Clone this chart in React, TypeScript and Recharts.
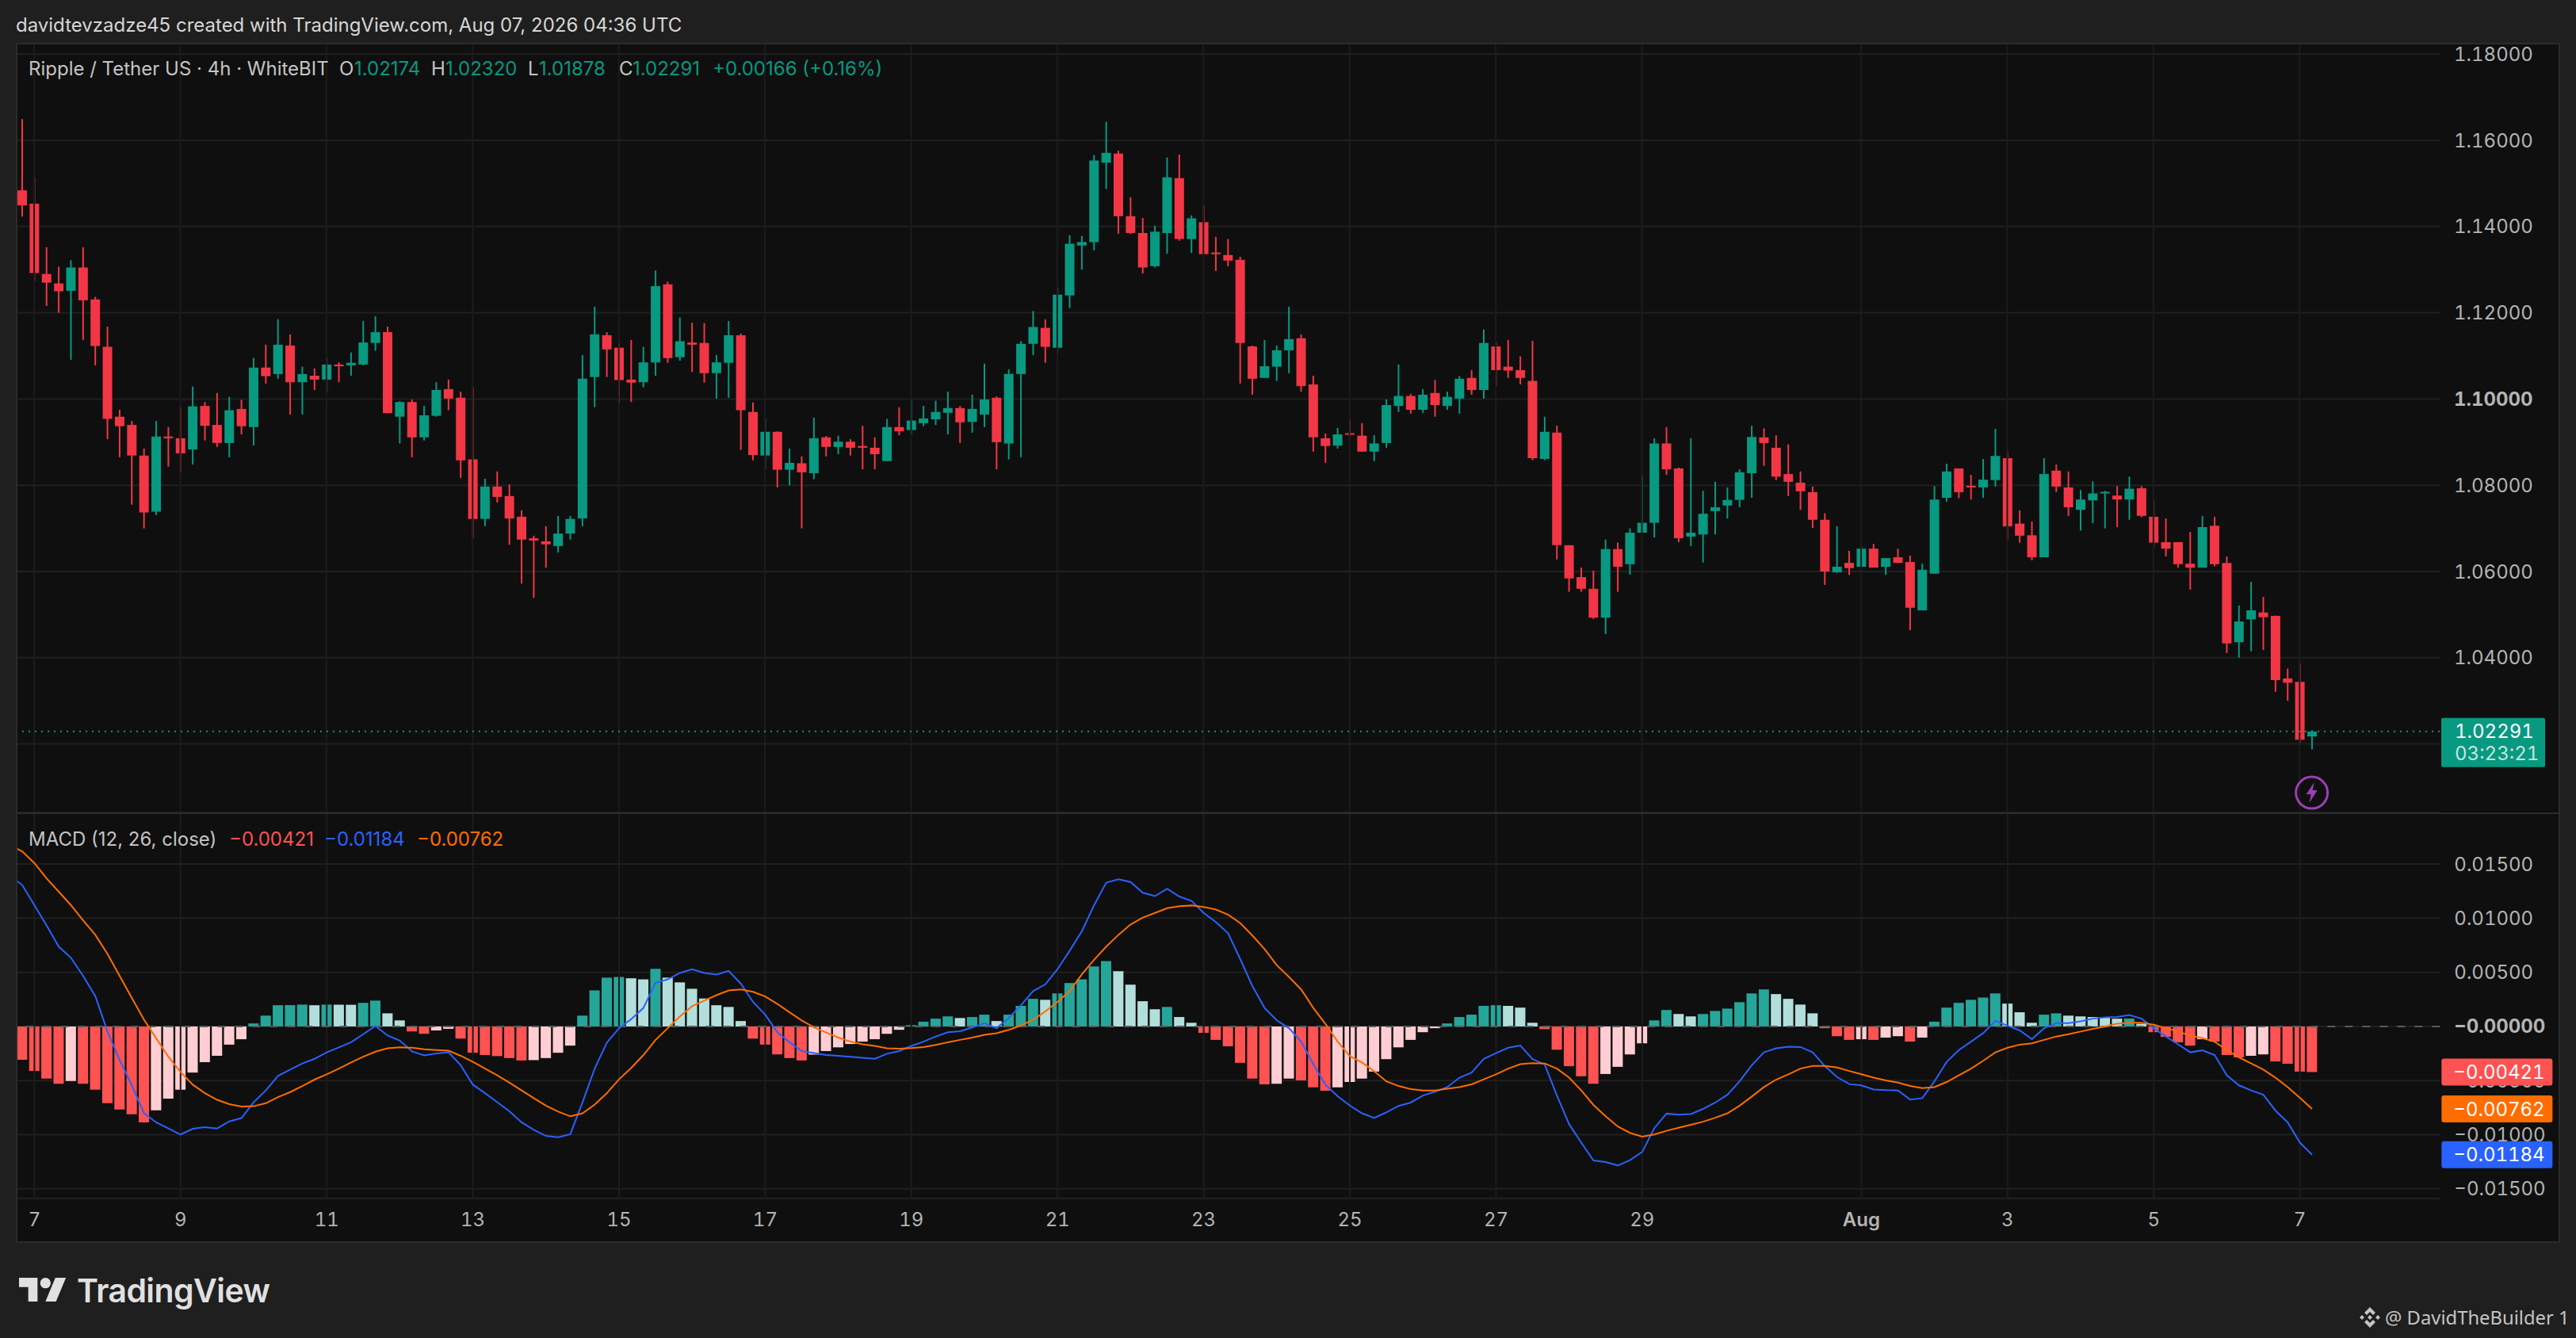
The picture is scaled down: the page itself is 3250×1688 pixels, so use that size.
import { BarChart, Bar, Cell, ComposedChart, Line, XAxis, YAxis, CartesianGrid, ReferenceLine, ReferenceDot } from "recharts";

// 4h candles, first bar is Jul 6 20:00
const opens = [
  1.1484,1.1453,1.1290,1.1268,1.1251,1.1305,1.1231,1.1121,1.0959,1.0940,
  1.0869,1.0739,1.0913,1.0909,1.0883,1.0984,1.0940,1.0898,1.0977,1.0935,
  1.1073,1.1058,1.1124,1.1039,1.1054,1.1045,1.1080,1.1078,1.1080,1.1130,
  1.1155,1.0959,1.0993,1.0911,1.0961,1.1023,1.1003,1.0860,1.0722,1.0797,
  1.0775,1.0727,1.0677,1.0670,1.0659,1.0688,1.0723,1.1051,1.1148,1.1119,
  1.1045,1.1039,1.1085,1.1266,1.1097,1.1131,1.1130,1.1060,1.1084,1.1148,
  1.0970,1.0869,1.0924,1.0836,1.0851,1.0828,1.0911,1.0889,1.0901,1.0891,
  1.0887,1.0856,1.0935,1.0928,1.0944,1.0953,1.0968,1.0979,1.0947,1.0964,
  1.1003,1.0897,1.1058,1.1128,1.1165,1.1119,1.1240,1.1356,1.1364,1.1548,
  1.1569,1.1424,1.1385,1.1308,1.1385,1.1512,1.1371,1.1410,1.1339,1.1334,
  1.1323,1.1122,1.1049,1.1075,1.1113,1.1141,1.1034,1.0909,1.0892,1.0920,
  1.0915,1.0878,1.0898,1.0984,1.1007,1.0975,1.1014,1.0984,1.1001,1.1049,
  1.1021,1.1122,1.1075,1.1067,1.1042,1.0861,1.0922,1.0661,1.0587,1.0560,
  1.0493,1.0652,1.0617,1.0690,1.0713,1.0897,1.0839,1.0681,1.0686,1.0740,
  1.0753,1.0766,1.0828,1.0911,1.0887,1.0826,1.0806,1.0784,1.0720,1.0598,
  1.0620,1.0611,1.0653,1.0611,1.0633,1.0622,1.0510,1.0595,1.0771,1.0839,
  1.0798,1.0795,1.0812,1.0863,1.0711,1.0684,1.0633,1.0834,1.0795,1.0743,
  1.0765,1.0781,1.0776,1.0767,1.0793,1.0727,1.0668,1.0668,1.0618,1.0609,
  1.0706,1.0620,1.0436,1.0489,1.0505,1.0497,1.0352,1.0344,1.02174,
];
const highs = [
  1.1649,1.1514,1.1352,1.1307,1.1322,1.1352,1.1237,1.1168,1.0975,1.0949,
  1.0885,1.0949,1.0935,1.0981,1.1029,1.0993,1.1014,1.1005,1.0998,1.1095,
  1.1126,1.1185,1.1150,1.1075,1.1071,1.1095,1.1085,1.1108,1.1181,1.1192,
  1.1168,1.0995,1.0999,1.0984,1.1039,1.1045,1.1017,1.1027,1.0815,1.0832,
  1.0802,1.0742,1.0683,1.0705,1.0729,1.0729,1.1102,1.1214,1.1155,1.1130,
  1.1137,1.1121,1.1298,1.1272,1.1189,1.1177,1.1176,1.1102,1.1181,1.1152,
  1.0992,1.0955,1.0925,1.0885,1.0867,1.0957,1.0914,1.0915,1.0907,1.0938,
  1.0911,1.0954,1.0981,1.0999,1.0984,1.0996,1.1017,1.0984,1.1010,1.1082,
  1.1006,1.1069,1.1134,1.1204,1.1185,1.1257,1.1380,1.1378,1.1566,1.1643,
  1.1576,1.1468,1.1420,1.1402,1.1560,1.1567,1.1426,1.1448,1.1376,1.1371,
  1.1330,1.1124,1.1137,1.1124,1.1214,1.1150,1.1054,1.0920,1.0933,1.0952,
  1.0944,1.0916,1.0999,1.1080,1.1012,1.1023,1.1044,1.1017,1.1053,1.1067,
  1.1161,1.1131,1.1137,1.1099,1.1135,1.0959,1.0938,1.0661,1.0609,1.0602,
  1.0674,1.0667,1.0700,1.0823,1.0909,1.0935,1.0841,1.0909,1.0787,1.0808,
  1.0795,1.0837,1.0938,1.0932,1.0916,1.0895,1.0832,1.0797,1.0735,1.0705,
  1.0648,1.0659,1.0664,1.0631,1.0653,1.0637,1.0618,1.0798,1.0850,1.0839,
  1.0824,1.0861,1.0931,1.0878,1.0742,1.0716,1.0863,1.0848,1.0832,1.0789,
  1.0809,1.0787,1.0798,1.0820,1.0798,1.0765,1.0723,1.0668,1.0692,1.0729,
  1.0727,1.0635,1.0521,1.0576,1.0541,1.0498,1.0375,1.0387,1.02320,
];
const lows = [
  1.1423,1.1273,1.1216,1.1200,1.1091,1.1137,1.1078,1.0907,1.0865,1.0755,
  1.0700,1.0731,1.0843,1.0830,1.0848,1.0904,1.0889,1.0865,1.0918,1.0892,
  1.1036,1.1047,1.0964,1.0964,1.1021,1.1016,1.1039,1.1054,1.1078,1.1112,
  1.0967,1.0897,1.0865,1.0904,1.0959,1.0974,1.0817,1.0677,1.0705,1.0760,
  1.0662,1.0572,1.0539,1.0609,1.0644,1.0674,1.0705,1.0981,1.1051,1.0990,
  1.0993,1.1027,1.1054,1.1084,1.1089,1.1063,1.1038,1.1001,1.1003,1.0882,
  1.0858,1.0837,1.0795,1.0800,1.0700,1.0814,1.0867,1.0872,1.0869,1.0837,
  1.0837,1.0856,1.0916,1.0918,1.0937,1.0940,1.0918,1.0898,1.0922,1.0935,
  1.0837,1.0860,1.0865,1.1102,1.1084,1.1106,1.1211,1.1300,1.1345,1.1487,
  1.1383,1.1383,1.1291,1.1305,1.1337,1.1367,1.1339,1.1336,1.1297,1.1308,
  1.1036,1.1010,1.1049,1.1042,1.1060,1.1017,1.0878,1.0852,1.0885,1.0913,
  1.0878,1.0856,1.0887,1.0970,1.0966,1.0968,1.0959,1.0975,1.0966,1.1010,
  1.1001,1.1030,1.1049,1.1034,1.0858,1.0858,1.0628,1.0553,1.0553,1.0490,
  1.0455,1.0553,1.0593,1.0690,1.0679,1.0824,1.0668,1.0659,1.0621,1.0686,
  1.0723,1.0749,1.0771,1.0845,1.0812,1.0775,1.0743,1.0701,1.0569,1.0597,
  1.0592,1.0611,1.0609,1.0592,1.0620,1.0464,1.0510,1.0595,1.0762,1.0770,
  1.0767,1.0771,1.0797,1.0675,1.0667,1.0626,1.0633,1.0784,1.0729,1.0695,
  1.0712,1.0700,1.0703,1.0720,1.0726,1.0657,1.0635,1.0609,1.0558,1.0609,
  1.0612,1.0411,1.0400,1.0415,1.0418,1.0321,1.0300,1.0202,1.01878,
];
const closes = [
  1.1449,1.1292,1.1270,1.1250,1.1305,1.1229,1.1123,1.0954,1.0937,1.0869,
  1.0737,1.0913,1.0909,1.0874,1.0983,1.0938,1.0898,1.0974,1.0937,1.1073,
  1.1053,1.1126,1.1039,1.1058,1.1045,1.1080,1.1076,1.1084,1.1131,1.1155,
  1.0967,1.0993,1.0911,1.0962,1.1021,1.1001,1.0858,1.0722,1.0797,1.0773,
  1.0723,1.0674,1.0672,1.0663,1.0688,1.0722,1.1047,1.1150,1.1115,1.1044,
  1.1038,1.1085,1.1262,1.1095,1.1134,1.1126,1.1060,1.1085,1.1148,1.0974,
  1.0870,1.0924,1.0836,1.0852,1.0830,1.0909,1.0889,1.0901,1.0887,1.0887,
  1.0872,1.0935,1.0925,1.0950,1.0955,1.0970,1.0979,1.0946,1.0977,1.0999,
  1.0900,1.1058,1.1128,1.1167,1.1121,1.1242,1.1360,1.1364,1.1553,1.1571,
  1.1424,1.1385,1.1305,1.1388,1.1514,1.1371,1.1419,1.1336,1.1336,1.1321,
  1.1130,1.1047,1.1076,1.1113,1.1139,1.1030,1.0911,1.0891,1.0918,1.0917,
  1.0878,1.0897,1.0986,1.1007,1.0975,1.1010,1.0986,1.1005,1.1047,1.1021,
  1.1130,1.1067,1.1066,1.1049,1.0863,1.0924,1.0661,1.0584,1.0560,1.0493,
  1.0652,1.0611,1.0690,1.0713,1.0897,1.0837,1.0677,1.0690,1.0734,1.0749,
  1.0766,1.0830,1.0912,1.0898,1.0820,1.0808,1.0786,1.0720,1.0600,1.0611,
  1.0608,1.0653,1.0609,1.0631,1.0620,1.0516,1.0604,1.0767,1.0832,1.0784,
  1.0795,1.0813,1.0868,1.0705,1.0683,1.0633,1.0826,1.0797,1.0749,1.0767,
  1.0781,1.0784,1.0767,1.0792,1.0729,1.0667,1.0653,1.0617,1.0609,1.0703,
  1.0617,1.0433,1.0484,1.0510,1.0494,1.0348,1.0342,1.0210,1.02291,
];

const histValues = [
  -0.00308,-0.00411,-0.00482,-0.00529,-0.00504,-0.00529,-0.00585,-0.00709,-0.00768,-0.00812,
  -0.00886,-0.00774,-0.00666,-0.00585,-0.00426,-0.0033,-0.00271,-0.00168,-0.00118,0.00028,
  0.001,0.00196,0.00197,0.00202,0.00196,0.00202,0.00201,0.002,0.00218,0.00239,
  0.00121,0.00056,-0.00047,-0.00068,-0.00037,-0.00022,-0.00112,-0.00243,-0.00264,-0.00274,
  -0.00292,-0.00314,-0.00311,-0.00292,-0.00243,-0.00177,0.001,0.00333,0.00451,0.00457,
  0.00445,0.00435,0.00532,0.00451,0.00407,0.00348,0.00258,0.00196,0.0018,0.0005,
  -0.00112,-0.00168,-0.00258,-0.00292,-0.00314,-0.00261,-0.00227,-0.00193,-0.00162,-0.0014,
  -0.00118,-0.00068,-0.00031,0.00012,0.00044,0.00072,0.00093,0.00078,0.00087,0.00109,
  0.0005,0.00109,0.0019,0.00255,0.00246,0.00305,0.00401,0.00435,0.00554,0.00603,
  0.0051,0.00386,0.00233,0.00159,0.0018,0.00087,0.00034,-0.00059,-0.00124,-0.00183,
  -0.00336,-0.00482,-0.00535,-0.00529,-0.00482,-0.00498,-0.00563,-0.00594,-0.00563,-0.00513,
  -0.00482,-0.00417,-0.00302,-0.00193,-0.00124,-0.00053,-0.00016,0.00028,0.00087,0.00109,
  0.0019,0.00196,0.0019,0.00174,0.00034,-0.00025,-0.00215,-0.00367,-0.0046,-0.00529,
  -0.00439,-0.00373,-0.00258,-0.00156,0.00056,0.00152,0.00115,0.00093,0.00115,0.00143,
  0.00165,0.00224,0.00305,0.00342,0.00299,0.00255,0.00202,0.00121,-0.00016,-0.0009,
  -0.00124,-0.00118,-0.00124,-0.00103,-0.0009,-0.0014,-0.00103,0.00044,0.00174,0.00218,
  0.00246,0.00267,0.00305,0.00211,0.00131,0.00034,0.00109,0.00121,0.001,0.00093,
  0.00087,0.00081,0.00072,0.00073,0.00025,-0.00053,-0.00096,-0.00146,-0.00177,-0.00118,
  -0.0014,-0.00264,-0.00286,-0.00271,-0.00258,-0.00323,-0.00345,-0.00417,-0.00421,
];
const macdValues = [
  0.01306,0.0112,0.00933,0.00737,0.00634,0.00467,0.0028,-0.00047,-0.00311,-0.00544,
  -0.00802,-0.00886,-0.00942,-0.00998,-0.00945,-0.0093,-0.00942,-0.00877,-0.00846,-0.007,
  -0.00591,-0.00457,-0.00398,-0.00342,-0.00299,-0.00239,-0.00193,-0.00146,-0.00072,0.00006,
  -0.00084,-0.00131,-0.0023,-0.00267,-0.00249,-0.00239,-0.00358,-0.00538,-0.00616,-0.007,
  -0.00784,-0.00886,-0.00955,-0.01011,-0.01023,-0.00995,-0.007,-0.00389,-0.00149,-0.00016,
  0.00068,0.00171,0.00404,0.00435,0.00494,0.00529,0.00494,0.00479,0.00513,0.00395,
  0.00227,0.00109,-0.00053,-0.00146,-0.00227,-0.00246,-0.00264,-0.00271,-0.0028,-0.00289,
  -0.00299,-0.00252,-0.00227,-0.0018,-0.0014,-0.00093,-0.00053,-0.00044,-0.00009,0.00031,
  -0.00016,0.00078,0.00196,0.00327,0.00389,0.00529,0.007,0.0088,0.0112,0.01328,
  0.01359,0.01334,0.01235,0.01204,0.01272,0.012,0.0116,0.01048,0.00964,0.00861,
  0.00622,0.00373,0.00171,0.00056,-0.00016,-0.0014,-0.00348,-0.00538,-0.00644,-0.00731,
  -0.00802,-0.00846,-0.00793,-0.00734,-0.00703,-0.00638,-0.00603,-0.0056,-0.00473,-0.00426,
  -0.00299,-0.00246,-0.00196,-0.00177,-0.00302,-0.00351,-0.00638,-0.00902,-0.01073,-0.01238,
  -0.01253,-0.01284,-0.01235,-0.0116,-0.00939,-0.00805,-0.00815,-0.00809,-0.00762,-0.00703,
  -0.00631,-0.00507,-0.00358,-0.00239,-0.00202,-0.00187,-0.0019,-0.00239,-0.00367,-0.00467,
  -0.00532,-0.00544,-0.00582,-0.00588,-0.00591,-0.00675,-0.00662,-0.00507,-0.00327,-0.00218,
  -0.0014,-0.00062,0.00053,0.00006,-0.00037,-0.00118,-0.00016,0.00031,0.00031,0.00047,
  0.00072,0.00084,0.00087,0.00106,0.00072,-0.00016,-0.00093,-0.00165,-0.00239,-0.00221,
  -0.00264,-0.00451,-0.00544,-0.00591,-0.00631,-0.00778,-0.00886,-0.01073,-0.01184,
];
const signalValues = [
  0.01617,0.01508,0.01368,0.01244,0.0112,0.0098,0.00846,0.00669,0.00467,0.00264,
  0.00062,-0.00109,-0.0028,-0.0042,-0.00538,-0.00616,-0.00678,-0.00718,-0.0074,-0.00737,
  -0.00709,-0.00653,-0.00606,-0.0055,-0.00491,-0.00442,-0.00389,-0.00333,-0.0028,-0.00233,
  -0.00202,-0.00193,-0.00196,-0.00211,-0.00218,-0.00224,-0.00271,-0.00327,-0.00389,-0.00451,
  -0.00519,-0.00591,-0.00662,-0.00731,-0.00787,-0.0083,-0.00802,-0.00722,-0.00616,-0.00488,
  -0.00383,-0.00264,-0.00124,-0.00016,0.00093,0.00187,0.00239,0.00289,0.00333,0.00342,
  0.0032,0.00277,0.00208,0.00131,0.00056,-0.00009,-0.00056,-0.00103,-0.0014,-0.00165,
  -0.0018,-0.00202,-0.00205,-0.00199,-0.0019,-0.00171,-0.00146,-0.00124,-0.00103,-0.00078,
  -0.00062,-0.00031,0.00009,0.00062,0.0014,0.00227,0.00327,0.00482,0.00616,0.00737,
  0.00846,0.00942,0.01005,0.01048,0.01092,0.0111,0.01117,0.01104,0.01079,0.01033,
  0.00955,0.0084,0.00715,0.00566,0.00457,0.00342,0.00171,0.00022,-0.0014,-0.00274,
  -0.00333,-0.00414,-0.00507,-0.0055,-0.00578,-0.00591,-0.00591,-0.00575,-0.0056,-0.00535,
  -0.00488,-0.00442,-0.00389,-0.00348,-0.00339,-0.00342,-0.00389,-0.00473,-0.00591,-0.00725,
  -0.0083,-0.00924,-0.00983,-0.01017,-0.00998,-0.00964,-0.00936,-0.00908,-0.0088,-0.00843,
  -0.00802,-0.00731,-0.00647,-0.0056,-0.00491,-0.00442,-0.00389,-0.00364,-0.00364,-0.00379,
  -0.00411,-0.00442,-0.00473,-0.00498,-0.00519,-0.0055,-0.00569,-0.0056,-0.00513,-0.00451,
  -0.00389,-0.00317,-0.00239,-0.00196,-0.00168,-0.00156,-0.00124,-0.00093,-0.00072,-0.00047,
  -0.00022,0,0.00025,0.00034,0.00034,0.00016,-0.00016,-0.00047,-0.00084,-0.00109,
  -0.0014,-0.00218,-0.00286,-0.00342,-0.00398,-0.00473,-0.0056,-0.00659,-0.00762,
];
// the bar before the first candle, its lines run in from the pane's left edge
const macdBefore = 0.01393;
const signalBefore = 0.01673;

const priceTicks = [1.18, 1.16, 1.14, 1.12, 1.1, 1.08, 1.06, 1.04, 1.02];
const macdTicks = [0.015, 0.01, 0.005, 0, -0.005, -0.01, -0.015];
const dayIndexes = [1, 13, 25, 37, 49, 61, 73, 85, 97, 109, 121, 133, 151, 163, 175, 187];
const dayLabels = ["7", "9", "11", "13", "15", "17", "19", "21", "23", "25", "27", "29", "Aug", "3", "5", "7"];

const lastPrice = 1.02291;
const eventLevel = 1.0087;
const slotCount = 199;
const macdDomain = [-0.01589, 0.01969];
const slotWidth = 3058 / slotCount;

const UP = "#089981";
const DOWN = "#f23645";
const FONT = "Inter, sans-serif";
const AXIS_TEXT = "#b4b4b4";
const GRID_H = "#202020";
const GRID_V = "#1c1c1c";
const TABULAR = { fontVariantNumeric: "tabular-nums" };

const candleRows = Array.from({ length: slotCount }, (_, i) =>
  i < opens.length
    ? {
        i,
        wick: [lows[i], highs[i]],
        body: [Math.min(opens[i], closes[i]), Math.max(opens[i], closes[i])],
      }
    : { i },
);
const macdRows = [
  { i: -1, macd: macdBefore, signal: signalBefore },
  ...Array.from({ length: slotCount }, (_, i) =>
    i < histValues.length ? { i, hist: histValues[i], macd: macdValues[i], signal: signalValues[i] } : { i },
  ),
];

const histColor = (i: number) => {
  const v = histValues[i];
  const rising = i > 0 && v > histValues[i - 1];
  if (v >= 0) return rising ? "#26a69a" : "#b2dfdb";
  return rising ? "#ffcdd2" : "#ff5252";
};

const formatMacd = (v: number) => (v <= 0 ? "\u2212" : "") + Math.abs(v).toFixed(5);

const PriceTick = ({ x, y, payload }: any) => {
  // the 1.02 label sits under the last price tag, the grid line stays
  if (payload.value === 1.02) return null;
  return (
    <text x={x + 10} y={y} dominantBaseline="central" fill={AXIS_TEXT} fontFamily={FONT} fontSize={24} fontWeight={payload.value === 1.1 ? 700 : 400} style={TABULAR}>
      {payload.value.toFixed(5)}
    </text>
  );
};

const MacdTick = ({ x, y, payload }: any) => (
  <text x={x + 10} y={y} dominantBaseline="central" fill={AXIS_TEXT} fontFamily={FONT} fontSize={24} fontWeight={payload.value === 0 ? 700 : 400} style={TABULAR}>
    {formatMacd(payload.value)}
  </text>
);

const DayTick = ({ x, y, payload, index }: any) => (
  <text x={x} y={y + 19} textAnchor="middle" dominantBaseline="central" fill={AXIS_TEXT} fontFamily={FONT} fontSize={24} fontWeight={dayLabels[index] === "Aug" ? 600 : 400} style={TABULAR}>
    {dayLabels[index]}
  </text>
);

const LastPriceTag = ({ viewBox }: any) => {
  const left = viewBox.x + viewBox.width + 2;
  return (
    <g fontFamily={FONT} fontSize={24} style={TABULAR}>
      <rect x={left} y={viewBox.y - 17} width={131} height={62} rx={2} fill={UP} />
      <text x={left + 17} y={viewBox.y} dominantBaseline="central" fill="#ffffff">{lastPrice.toFixed(5)}</text>
      <text x={left + 17} y={viewBox.y + 28} dominantBaseline="central" fill="#c4e6df">03:23:21</text>
    </g>
  );
};

const macdTag = (value: number, color: string) => ({ viewBox }: any) => {
  const left = viewBox.x + viewBox.width + 2;
  return (
    <g fontFamily={FONT} fontSize={24} style={TABULAR}>
      <rect x={left} y={viewBox.y - 17} width={140} height={34} rx={3} fill={color} />
      <text x={left + 15} y={viewBox.y} dominantBaseline="central" fill="#ffffff">{formatMacd(value)}</text>
    </g>
  );
};

const EventMark = ({ cx, cy }: any) => (
  <g>
    <circle cx={cx} cy={cy} r={20} fill="none" stroke="#9c3fb5" strokeWidth={3} />
    <path d={`M${cx + 3} ${cy - 13} L${cx - 7} ${cy + 2} L${cx - 1} ${cy + 2} L${cx - 3} ${cy + 13} L${cx + 7} ${cy - 3} L${cx + 1} ${cy - 3} Z`} fill="#9c3fb5" />
  </g>
);

const label = (left: number, top: number, text: string, color: string, size = 24, extra: any = {}) => (
  <span style={{ position: "absolute", left, top, transform: "translateY(-50%)", color, fontSize: size, fontFamily: FONT, whiteSpace: "nowrap", ...extra }}>
    {text}
  </span>
);

const App = () => (
  <div style={{ position: "absolute", left: 0, top: 0, width: 3250, height: 1688, background: "#1f1f1f", overflow: "hidden" }}>
    <div style={{ position: "absolute", left: 20, top: 54, width: 3210, height: 1514, background: "#0f0f0f" }} />

    <div style={{ position: "absolute", left: 20, top: 54 }}>
      <BarChart width={3210} height={971} data={candleRows} margin={{ top: 0, right: 0, bottom: 0, left: 0 }} barGap={0}>
        <CartesianGrid vertical={false} stroke={GRID_H} strokeWidth={2} />
        <XAxis dataKey="i" type="category" hide scale="band" />
        <XAxis dataKey="i" type="category" hide scale="band" xAxisId="body" />
        <YAxis orientation="right" width={152} domain={[1.00412, 1.18261]} ticks={priceTicks} interval={0} axisLine={false} tickLine={false} tick={<PriceTick />} />
        {dayIndexes.map((d) => (
          <ReferenceLine key={d} x={d} stroke={GRID_V} strokeWidth={2} />
        ))}
        <ReferenceLine y={lastPrice} stroke={UP} strokeWidth={2} strokeDasharray="2 6" label={<LastPriceTag />} />
        <Bar dataKey="wick" barSize={2} isAnimationActive={false}>
          {opens.map((o, i) => (
            <Cell key={i} fill={closes[i] >= o ? UP : DOWN} />
          ))}
        </Bar>
        <Bar dataKey="body" xAxisId="body" barSize={12} minPointSize={2} isAnimationActive={false}>
          {opens.map((o, i) => (
            <Cell key={i} fill={closes[i] >= o ? UP : DOWN} />
          ))}
        </Bar>
        <ReferenceDot x={188} y={eventLevel} r={20} shape={<EventMark />} />
      </BarChart>
    </div>

    {/* one slot wider on the left than the frame, the mask below hides it */}
    <div style={{ position: "absolute", left: 20 - slotWidth, top: 1026 }}>
      <ComposedChart width={3210 + slotWidth} height={541} data={macdRows} margin={{ top: 0, right: 0, bottom: 0, left: 0 }}>
        <CartesianGrid vertical={false} stroke={GRID_H} strokeWidth={2} />
        <XAxis dataKey="i" type="category" scale="band" height={55} ticks={dayIndexes} interval={0} axisLine={false} tickLine={false} tick={<DayTick />} />
        <YAxis orientation="right" width={152} domain={macdDomain} ticks={macdTicks} interval={0} axisLine={false} tickLine={false} tick={<MacdTick />} />
        {dayIndexes.map((d) => (
          <ReferenceLine key={d} x={d} stroke={GRID_V} strokeWidth={2} />
        ))}
        <Bar dataKey="hist" barSize={13} isAnimationActive={false}>
          {macdRows.map((r, n) => (
            <Cell key={n} fill={r.i >= 0 && r.i < histValues.length ? histColor(r.i) : "none"} />
          ))}
        </Bar>
        <ReferenceLine y={0} stroke="#5a5a5a" strokeWidth={2} strokeDasharray="10 12" />
        <Line dataKey="macd" stroke="#2962ff" strokeWidth={2} dot={false} isAnimationActive={false} />
        <Line dataKey="signal" stroke="#ff6d00" strokeWidth={2} dot={false} isAnimationActive={false} />
      </ComposedChart>
    </div>

    {/* value tags go on a second transparent chart so they cover the axis labels */}
    <div style={{ position: "absolute", left: 20 - slotWidth, top: 1026 }}>
      <ComposedChart width={3210 + slotWidth} height={541} data={macdRows} margin={{ top: 0, right: 0, bottom: 0, left: 0 }}>
        <XAxis dataKey="i" type="category" scale="band" height={55} tick={false} axisLine={false} tickLine={false} />
        <YAxis orientation="right" width={152} domain={macdDomain} tick={false} axisLine={false} tickLine={false} />
        <Line dataKey="macd" stroke="none" dot={false} isAnimationActive={false} />
        <ReferenceLine y={histValues[188]} stroke="none" label={macdTag(histValues[188], "#ff5252")} />
        <ReferenceLine y={signalValues[188]} stroke="none" label={macdTag(signalValues[188], "#ff6d00")} />
        <ReferenceLine y={macdValues[188]} stroke="none" label={macdTag(macdValues[188], "#2962ff")} />
      </ComposedChart>
    </div>

    <div style={{ position: "absolute", left: 0, top: 1026, width: 20, height: 560, background: "#1f1f1f" }} />
    <div style={{ position: "absolute", left: 20, top: 1025, width: 3210, height: 2, background: "#2c2c2c" }} />
    <div style={{ position: "absolute", left: 20, top: 54, width: 3206, height: 1510, border: "2px solid #2c2c2c", pointerEvents: "none" }} />

    {label(20, 31, "davidtevzadze45 created with TradingView.com, Aug 07, 2026 04:36 UTC", "#d6d6d6")}

    {label(36, 86, "Ripple / Tether US · 4h · WhiteBIT", "#c4c4c4")}
    {label(428, 86, "O", "#c4c4c4")}
    {label(447, 86, "1.02174", UP)}
    {label(544, 86, "H", "#c4c4c4")}
    {label(562, 86, "1.02320", UP)}
    {label(666, 86, "L", "#c4c4c4")}
    {label(680, 86, "1.01878", UP)}
    {label(781, 86, "C", "#c4c4c4")}
    {label(798, 86, "1.02291", UP)}
    {label(899, 86, "+0.00166 (+0.16%)", UP)}

    {label(36, 1058, "MACD (12, 26, close)", "#c4c4c4")}
    {label(289, 1058, "\u22120.00421", "#ff5252")}
    {label(409, 1058, "\u22120.01184", "#2962ff")}
    {label(526, 1058, "\u22120.00762", "#ff6d00")}

    <svg style={{ position: "absolute", left: 24, top: 1612 }} width={60} height={30} viewBox="0 4 36 18">
      <path d="M14 22H7V11H0V4h14v18zM28 22h-8l7.5-18h8L28 22z" fill="#e0e0e0" />
      <circle cx={20} cy={8} r={4} fill="#e0e0e0" />
    </svg>
    {label(97, 1628, "TradingView", "#e0e0e0", 41, { fontWeight: 600, letterSpacing: -0.6 })}

    <svg style={{ position: "absolute", left: 2976, top: 1648 }} width={28} height={28} viewBox="0 0 28 28">
      <path d="M14 1 L21 8 L18 11 L14 7 L10 11 L7 8 Z M14 27 L21 20 L18 17 L14 21 L10 17 L7 20 Z M14 11 L17 14 L14 17 L11 14 Z M4 11 L7 14 L4 17 L1 14 Z M24 11 L27 14 L24 17 L21 14 Z" fill="#c4c4c4" />
    </svg>
    {label(3009, 1662, "@ DavidTheBuilder 1", "#c4c4c4", 23.8, { fontFamily: "'Noto Sans', sans-serif" })}
  </div>
);

export default App;
